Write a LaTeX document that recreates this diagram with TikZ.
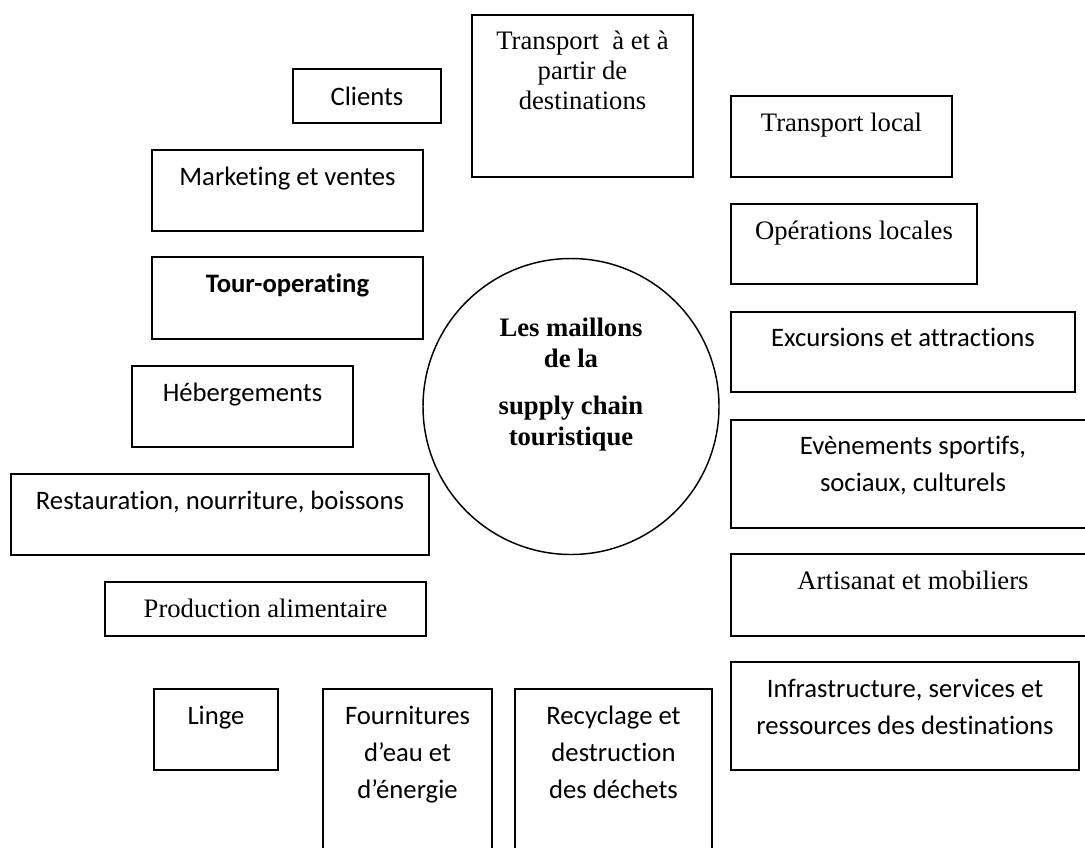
\documentclass[tikz,border=0pt]{standalone}
\usepackage{fontspec}
\setmainfont{Liberation Serif}
\newfontfamily\calib{Carlito}[Ligatures=NoCommon]
\newlength\pxu
\setlength\pxu{0.75pt}
\begin{document}
\begin{tikzpicture}[x=0.75pt,y=-0.75pt,
  box/.style={draw, line width=1.4pt, inner sep=0pt, rectangle},
  sanstxt/.style={font=\calib\fontsize{20}{27.75}\selectfont, inner sep=0pt, anchor=base},
  seriftxt/.style={font=\fontsize{20}{22.5}\selectfont, inner sep=0pt, anchor=base},
  multi/.style={align=flush center, text width=#1*\pxu},
]
\useasboundingbox (0,0) rectangle (1085,847);
\clip (0,0) rectangle (1085,847);

% left column
\node[box, minimum width=148*\pxu, minimum height=54*\pxu] (clients) at (367,96) {};
\path (clients.north) ++(0,37) node[sanstxt] (clientsT) {Clients};

\node[box, minimum width=271*\pxu, minimum height=81*\pxu] (marketing) at (287.5,190.5) {};
\path (marketing.north) ++(0,36) node[sanstxt] (marketingT) {Marketing et ventes};

\node[box, minimum width=271*\pxu, minimum height=82*\pxu] (tourop) at (287.5,298) {};
\path (tourop.north) ++(0,36) node[sanstxt, font=\calib\bfseries\fontsize{20}{27.75}\selectfont] (touropT) {Tour-operating};

\node[box, minimum width=221*\pxu, minimum height=81*\pxu] (heberg) at (242.5,406.5) {};
\path (heberg.north) ++(0,36) node[sanstxt] (hebergT) {Hébergements};

\node[box, minimum width=418*\pxu, minimum height=81*\pxu] (restau) at (220,514.5) {};
\path (restau.north) ++(0,36) node[sanstxt] (restauT) {Restauration, nourriture, boissons};

\node[box, minimum width=321*\pxu, minimum height=54*\pxu] (prod) at (265.5,609) {};
\path (prod.north) ++(0,36) node[seriftxt] (prodT) {Production alimentaire};

% bottom row
\node[box, minimum width=124*\pxu, minimum height=81*\pxu] (linge) at (216,729.5) {};
\path (linge.north) ++(0,36) node[sanstxt] (lingeT) {Linge};

\node[box, minimum width=169*\pxu, minimum height=181*\pxu] (fourn) at (407.5,779.5) {};
\path (fourn.north) ++(0,36) node[sanstxt, multi=160] (fournT) {Fournitures\\d’eau et\\d’énergie};

\node[box, minimum width=197*\pxu, minimum height=181*\pxu] (recyc) at (613.5,779.5) {};
\path (recyc.north) ++(0,36) node[sanstxt, multi=190] (recycT) {Recyclage et\\destruction\\des déchets};

% top / right column
\node[box, minimum width=221*\pxu, minimum height=162*\pxu] (transp) at (582.5,96) {};
\path (transp.north) ++(0,35) node[seriftxt, multi=210] (transpT) {Transport~ à et à\\partir de\\destinations};

\node[box, minimum width=221*\pxu, minimum height=81*\pxu] (tlocal) at (841.5,136.5) {};
\path (tlocal.north) ++(0,36) node[seriftxt] (tlocalT) {Transport local};

\node[box, minimum width=246*\pxu, minimum height=80*\pxu] (oper) at (854,244) {};
\path (oper.north) ++(0,36) node[seriftxt] (operT) {Opérations locales};

\node[box, minimum width=344*\pxu, minimum height=80*\pxu] (excur) at (903,352) {};
\path (excur.north) ++(0,35) node[sanstxt] (excurT) {Excursions et attractions};

\node[box, minimum width=364*\pxu, minimum height=108*\pxu] (evene) at (913,474) {};
\path (evene.north) ++(0,35) node[sanstxt, multi=340] (eveneT) {Evènements sportifs,\\sociaux, culturels};

\node[box, minimum width=364*\pxu, minimum height=82*\pxu] (artis) at (913,595) {};
\path (artis.north) ++(0,36) node[seriftxt] (artisT) {Artisanat et mobiliers};

\node[box, minimum width=348*\pxu, minimum height=108*\pxu] (infra) at (905,716) {};
\path (infra.north) ++(0,36) node[sanstxt, multi=340] (infraT) {Infrastructure, services et\\ressources des destinations};

% centre
\node[draw, circle, line width=1.1pt, inner sep=0pt, minimum size=296*\pxu] (hub) at (571,406.5) {};
\path (hub.north) ++(0,78.5) node[inner sep=0pt, anchor=base, multi=260,
  font=\bfseries\fontsize{20}{23.25}\selectfont] (hubT)
  {Les maillons\\de la\\[12pt]supply chain\\touristique};
\end{tikzpicture}
\end{document}
